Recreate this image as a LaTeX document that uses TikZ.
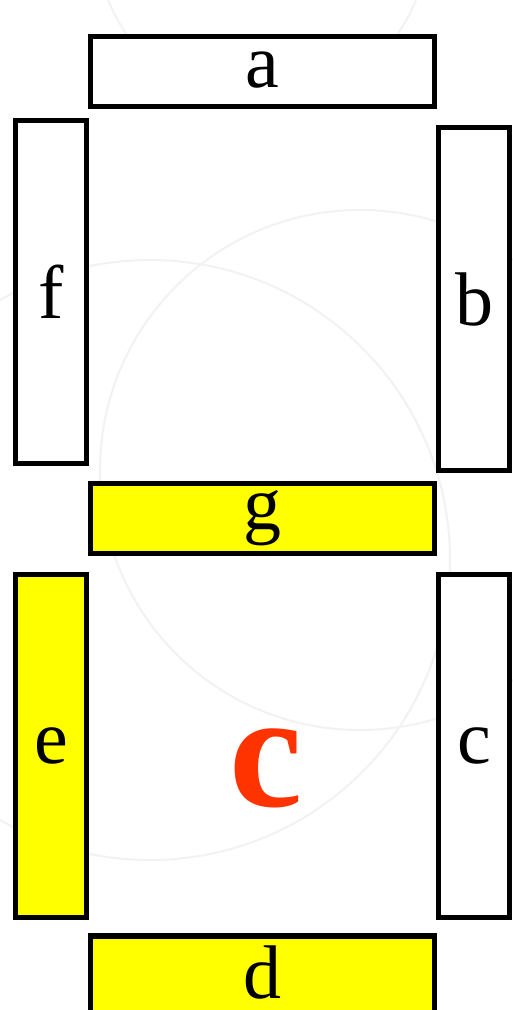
\documentclass[tikz,border=0pt]{standalone}
\usepackage{fontspec}
\setmainfont{Liberation Serif}
\usetikzlibrary{positioning}
\definecolor{cYellow}{HTML}{FFFF00}
\definecolor{cRed}{HTML}{FF3300}
\definecolor{cFaint}{HTML}{F2F2F2}
\tikzset{
  seg/.style={
    rectangle, draw=black, line width=5.5pt, fill=#1, inner sep=0pt,
    font=\fontsize{76}{76}\selectfont
  },
  seg/.default=white,
  hseg/.style={seg=#1, minimum width=344pt, minimum height=70pt},
  hseg/.default=white,
  vseg/.style={seg=#1, minimum width=71pt, minimum height=343pt},
  vseg/.default=white,
  digit/.style={font=\fontsize{165}{165}\selectfont\bfseries, text=cRed},
  faint/.style={draw=cFaint, line width=2pt},
}
\begin{document}
\begin{tikzpicture}[x=1pt, y=-1pt]
  \useasboundingbox (0,0) rectangle (512,1010);
  \fill[white] (0,0) rectangle (512,1010);

  % Background watermark arcs
  \draw[faint] (262,-60) circle (165);
  \draw[faint] (360,470) circle (260);
  \draw[faint] (150,560) circle (300);

  % Upper segments
  \node[hseg] (a) at (262.5,71.5) {\raisebox{3pt}{a}};
  \node[vseg] (f) at (51,292) {f};
  \node[vseg] (b) at (474,299) {b};

  % Middle segment (lit)
  \node[hseg=cYellow] (g) at (262.5,518.5) {g};

  % Lower segments
  \node[vseg=cYellow] (e) at (51,746) {e};
  \node[vseg] (c) at (474,746) {c};
  \node[hseg=cYellow, minimum height=78pt] (d) at (262.5,975) {};
  \node[font=\fontsize{76}{76}\selectfont, inner sep=0pt, anchor=base]
    (dtxt) at (262.5,998) {d};

  % Shown character
  \node[digit] (lbl) at (266,768) {c};

\end{tikzpicture}
\end{document}
